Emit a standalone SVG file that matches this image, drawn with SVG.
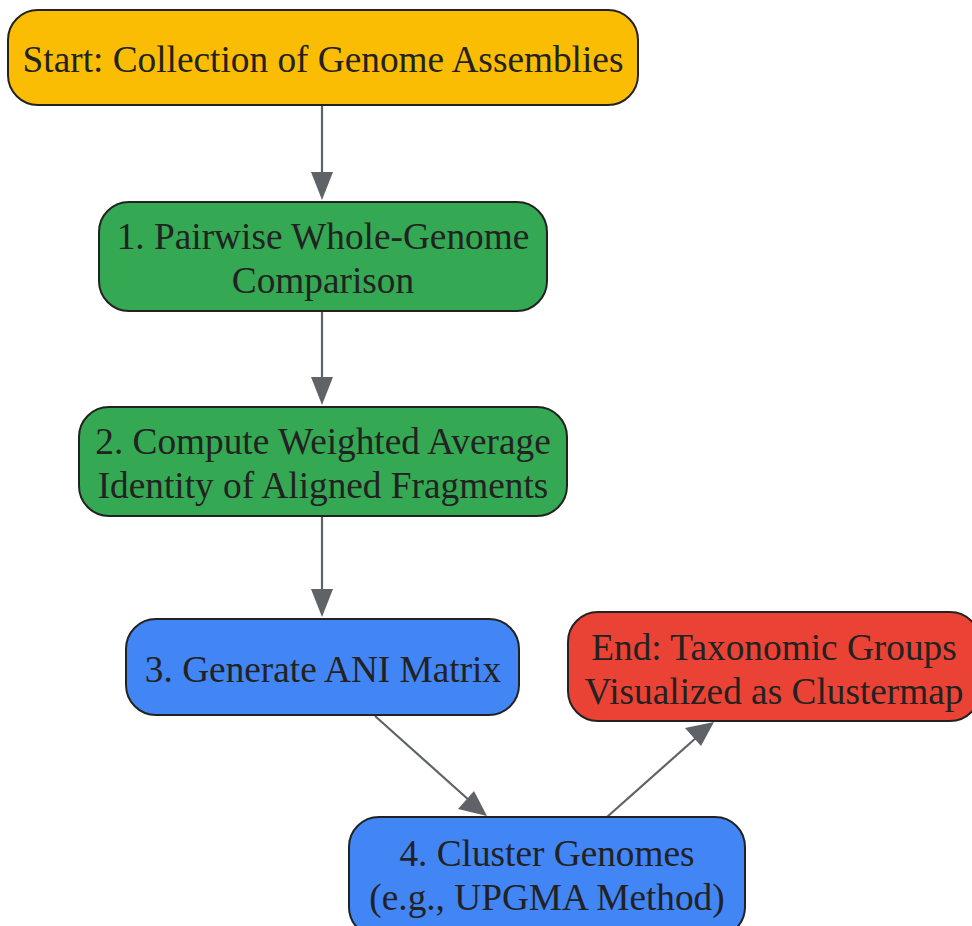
<svg xmlns="http://www.w3.org/2000/svg" width="972" height="926" viewBox="0 0 972 926">
<defs>
<style>
.n{stroke:#222;stroke-width:2}
.t{font-family:"Liberation Serif","Times New Roman",serif;font-size:37.3px;fill:#222;text-anchor:middle}
.e{stroke:#5f6368;stroke-width:2.2;fill:none}
</style>
</defs>
<rect width="972" height="926" fill="#fff"/>
<g id="edges">
<line class="e" x1="322" y1="105" x2="322" y2="178"/>
<path d="M311,172 L333,172 L322,200 z" fill="#5f6368"/>
<line class="e" x1="322" y1="311" x2="322" y2="383"/>
<path d="M311,377 L333,377 L322,405 z" fill="#5f6368"/>
<line class="e" x1="322" y1="516" x2="322" y2="595"/>
<path d="M311,589 L333,589 L322,617 z" fill="#5f6368"/>
<line class="e" x1="375" y1="716" x2="470" y2="801"/>
<path d="M458,809 L474,791 L487,816 z" fill="#5f6368"/>
<line class="e" x1="607" y1="817" x2="697" y2="737"/>
<path d="M685,728 L701,746 L714,722 z" fill="#5f6368"/>
</g>
<g id="start">
<rect class="n" x="8" y="10" width="630" height="95" rx="30" fill="#fbbc04"/>
<text class="t" x="323" y="72">Start: Collection of Genome Assemblies</text>
</g>
<g id="n1">
<rect class="n" x="99" y="202" width="448" height="109" rx="30" fill="#34a853"/>
<text class="t" x="323" y="249">1. Pairwise Whole-Genome</text>
<text class="t" x="323" y="293">Comparison</text>
</g>
<g id="n2">
<rect class="n" x="79" y="407" width="488" height="109" rx="30" fill="#34a853"/>
<text class="t" x="323" y="454">2. Compute Weighted Average</text>
<text class="t" x="323" y="498">Identity of Aligned Fragments</text>
</g>
<g id="n3">
<rect class="n" x="126" y="619" width="393" height="96" rx="30" fill="#4285f4"/>
<text class="t" x="323" y="682">3. Generate ANI Matrix</text>
</g>
<g id="end">
<rect class="n" x="568" y="612" width="412" height="109" rx="30" fill="#ea4335"/>
<text class="t" x="774" y="660">End: Taxonomic Groups</text>
<text class="t" x="774" y="704">Visualized as Clustermap</text>
</g>
<g id="n4">
<rect class="n" x="349" y="817" width="396" height="120" rx="30" fill="#4285f4"/>
<text class="t" x="547" y="866">4. Cluster Genomes</text>
<text class="t" x="547" y="910">(e.g., UPGMA Method)</text>
</g>
</svg>
